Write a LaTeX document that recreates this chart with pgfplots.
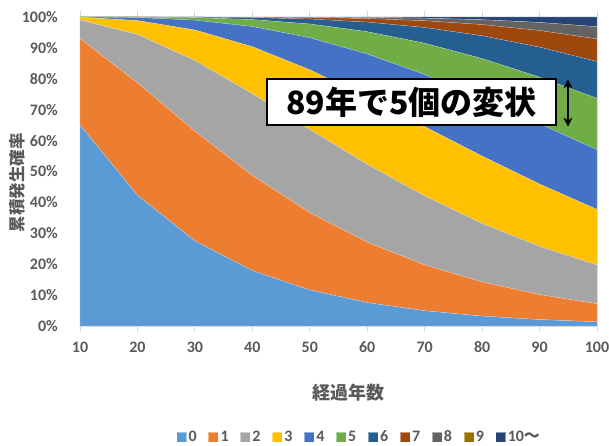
\documentclass[border=0pt]{standalone}
\usepackage{fontspec}
\setmainfont{Carlito}
\newfontfamily\cjk{Noto Sans CJK JP}
\usepackage{pgfplots}
\pgfplotsset{compat=1.18}
\usepackage{pgfplotstable}
\usetikzlibrary{arrows.meta}

\definecolor{c0}{HTML}{5B9BD5}
\definecolor{c1}{HTML}{ED7D31}
\definecolor{c2}{HTML}{A5A5A5}
\definecolor{c3}{HTML}{FFC000}
\definecolor{c4}{HTML}{4472C4}
\definecolor{c5}{HTML}{70AD47}
\definecolor{c6}{HTML}{255E91}
\definecolor{c7}{HTML}{9E480E}
\definecolor{c8}{HTML}{636363}
\definecolor{c9}{HTML}{997300}
\definecolor{c10}{HTML}{264478}
\definecolor{txtgray}{HTML}{595959}
\definecolor{linegray}{HTML}{D9D9D9}

% share of each number of defects (%), by elapsed years
\pgfplotstableread{
t   p0     p1     p2     p3     p4     p5     p6     p7    p8    p9  p10
10  65.051 27.972 6.014  0.862  0.093  0.008  0.000  0.000 0.000 0   0.000
20  42.316 36.392 15.649 4.486  0.965  0.166  0.024  0.002 0.000 0   0.000
30  27.527 35.510 22.904 9.849  3.176  0.820  0.176  0.032 0.005 0   0.001
40  17.907 30.799 26.488 15.186 6.530  2.246  0.644  0.158 0.034 0   0.008
50  11.648 25.044 26.922 19.294 10.371 4.459  1.598  0.491 0.132 0   0.041
60  7.577  19.550 25.219 21.688 13.989 7.218  3.104  1.144 0.369 0   0.142
70  4.929  14.837 22.330 22.404 16.859 10.149 5.092  2.189 0.824 0   0.387
80  3.206  11.030 18.972 21.754 18.709 12.871 7.380  3.627 1.559 0   0.892
90  2.086  8.072  15.619 20.149 19.494 15.088 9.732  5.380 2.603 0   1.777
100 1.357  5.835  12.545 17.981 19.329 16.623 11.913 7.318 3.934 0   3.165
}\data

\begin{document}
\begin{tikzpicture}
\begin{axis}[
  at={(0,0)}, anchor=south west,
  scale only axis, width=517pt, height=309pt,
  xmin=10, xmax=100, ymin=0, ymax=100,
  stack plots=y,
  axis line style={draw=linegray, line width=0.8pt},
  xtick={10,20,...,100},
  ytick={0,10,...,100},
  tick align=outside,
  major tick length=6pt,
  xtick style={draw=linegray, line width=0.8pt},
  ytick style={draw=none},
  /pgf/number format/assume math mode=true,
  yticklabel={\pgfmathprintnumber{\tick}\%},
  tick label style={font=\fontsize{16}{18}\selectfont\bfseries, text=txtgray},
  yticklabel style={anchor=east, inner sep=0pt, xshift=-16pt},
  xticklabel style={anchor=base, inner sep=0pt, yshift=-20pt},
  legend style={at={(0.5400,-0.359)}, anchor=center, draw=none, fill=none,
    legend columns=-1, font=\fontsize{16}{18}\selectfont\bfseries, text=txtgray,
    /tikz/every even column/.append style={column sep=9.5pt},
    inner sep=0pt},
  legend cell align=left,
  legend image code/.code={\fill[#1] (0pt,-4.8pt) rectangle (10pt,5.2pt);},
  every axis plot/.append style={draw=white, draw opacity=0.45, line width=0.3pt},
]
\addplot[fill=c0]  table[x=t,y=p0]  {\data} \closedcycle;
\addplot[fill=c1]  table[x=t,y=p1]  {\data} \closedcycle;
\addplot[fill=c2]  table[x=t,y=p2]  {\data} \closedcycle;
\addplot[fill=c3]  table[x=t,y=p3]  {\data} \closedcycle;
\addplot[fill=c4]  table[x=t,y=p4]  {\data} \closedcycle;
\addplot[fill=c5]  table[x=t,y=p5]  {\data} \closedcycle;
\addplot[fill=c6]  table[x=t,y=p6]  {\data} \closedcycle;
\addplot[fill=c7]  table[x=t,y=p7]  {\data} \closedcycle;
\addplot[fill=c8]  table[x=t,y=p8]  {\data} \closedcycle;
\addplot[fill=c9]  table[x=t,y=p9]  {\data} \closedcycle;
\addplot[fill=c10] table[x=t,y=p10] {\data} \closedcycle;
\legend{0,1,2,3,4,5,6,7,8,9,10{\cjk ～}}

% anchor points for the callout and its span arrow
\coordinate (boxc) at (axis cs:67.75,72.45);
\coordinate (arrtop) at (axis cs:94.95,79.8);
\coordinate (arrbot) at (axis cs:94.95,64.5);
\end{axis}

% callout box and span arrow
\node[draw=black, line width=1.5pt, fill=white, minimum width=289pt,
      minimum height=46pt, inner sep=0pt,
      font=\cjk\fontsize{32}{34}\selectfont\bfseries]
  at (boxc) {89年で5個の変状};
\draw[black, line width=1.8pt, {Stealth[length=9pt,width=9pt]}-{Stealth[length=9pt,width=9pt]}]
  (arrtop) -- (arrbot);

\node[font=\cjk\fontsize{18}{20}\selectfont\bfseries, text=txtgray]
  at (268pt,-67pt) {経過年数};
\node[rotate=90, font=\cjk\fontsize{16.5}{18}\selectfont\bfseries, text=txtgray]
  at (-63pt,143pt) {累積発生確率};

\pgfresetboundingbox
\path[use as bounding box] (-80pt,-120pt) rectangle (529pt,326pt);
\end{tikzpicture}
\end{document}
